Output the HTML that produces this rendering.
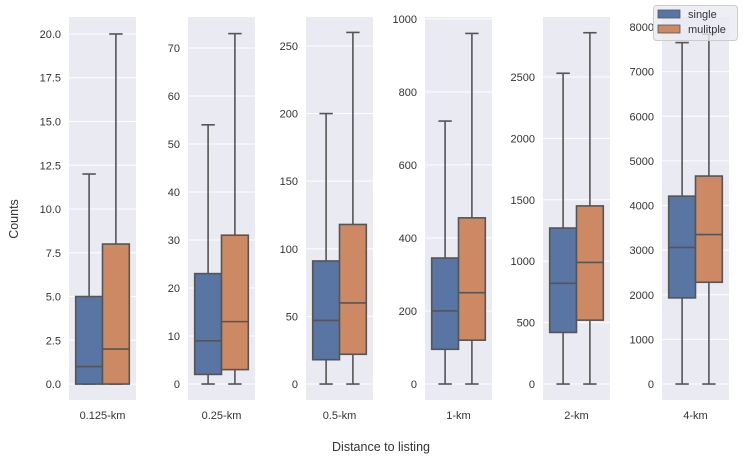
<!DOCTYPE html>
<html><head><meta charset="utf-8"><style>
body{margin:0;background:#fff;}
svg text{font-family:"Liberation Sans","DejaVu Sans",sans-serif;fill:#333;}
</style></head><body>
<svg id="chart" width="743" height="461" viewBox="0 0 743 461" xmlns="http://www.w3.org/2000/svg">
<text x="18" y="219" font-size="12.5" text-anchor="middle" transform="rotate(-90 18 219)">Counts</text>
<text x="381" y="451" font-size="12.5" text-anchor="middle">Distance to listing</text>
</svg>
<script>
const categories = ["0.125-km","0.25-km","0.5-km","1-km","2-km","4-km"];
const seriesNames = ["single","mulitple"];
// [whislo, q1, median, q3, whishi]
const singleStats = [[0,0,1,5,12],[0,2,9,23,54],[0,18,47,91,200],[0,95,200,345,720],[0,420,820,1270,2530],[0,1930,3060,4210,7650]];
const multipleStats = [[0,0,2,8,20],[0,3,13,31,73],[0,22,60,118,260],[0,120,250,455,960],[0,520,990,1450,2860],[0,2280,3350,4660,7840]];
const yMin = [-0.91,-3.33,-11.8,-43.8,-130,-358];
const yMax = [20.97,76.46,271.4,1005,2988,8224];
const tickValues = [[0,2.5,5,7.5,10,12.5,15,17.5,20],[0,10,20,30,40,50,60,70],[0,50,100,150,200,250],[0,200,400,600,800,1000],[0,500,1000,1500,2000,2500],[0,1000,2000,3000,4000,5000,6000,7000,8000]];
const tickLabels = [["0.0","2.5","5.0","7.5","10.0","12.5","15.0","17.5","20.0"],null,null,null,null,null];

const NS="http://www.w3.org/2000/svg";
const svg=document.getElementById('chart');
const panelLeft=[69,188,306,425,543,662], panelW=67, plotTop=17, plotBottom=400;
const colors=["#5875a4","#cc8963"];
function mk(tag,attrs,parent){const e=document.createElementNS(NS,tag);for(const k in attrs)e.setAttribute(k,attrs[k]);(parent||svg).appendChild(e);return e;}

categories.forEach((cat,i)=>{
  const g=mk('g',{});
  
  
  const y=v=>plotBottom-(v-yMin[i])/(yMax[i]-yMin[i])*(plotBottom-plotTop);
  const x0=panelLeft[i];
  const bg=mk('rect',{x:x0,y:plotTop,width:panelW,height:plotBottom-plotTop,fill:'#eaeaf2'},g);
  
  
  tickValues[i].forEach((t,j)=>{
    const yy=y(t);
    const gl=mk('line',{x1:x0,x2:x0+panelW,y1:yy,y2:yy,stroke:'#fff','stroke-width':1},g);
    
    
    const tl=mk('text',{x:x0-8,y:yy+4,'font-size':11,'text-anchor':'end'},g);
    
    
    tl.textContent=tickLabels[i]?tickLabels[i][j]:String(t);
  });
  const xl=mk('text',{x:x0+panelW/2,y:419,'font-size':11,'text-anchor':'middle'},g);
  
  
  xl.textContent=cat;
  [singleStats[i],multipleStats[i]].forEach((s,k)=>{
    const bw=panelW*0.4, bx=x0+panelW*0.1+k*bw, cx=bx+bw/2;
    const bg2=mk('g',{},g);
    
    
    const st={stroke:'#555','stroke-width':1.6};
    mk('line',Object.assign({x1:cx,x2:cx,y1:y(s[0]),y2:y(s[1])},st),bg2);
    mk('line',Object.assign({x1:cx,x2:cx,y1:y(s[3]),y2:y(s[4])},st),bg2);
    mk('line',Object.assign({x1:cx-bw/4,x2:cx+bw/4,y1:y(s[0]),y2:y(s[0])},st),bg2);
    mk('line',Object.assign({x1:cx-bw/4,x2:cx+bw/4,y1:y(s[4]),y2:y(s[4])},st),bg2);
    mk('rect',Object.assign({x:bx,y:y(s[3]),width:bw,height:Math.max(0,y(s[1])-y(s[3])),fill:colors[k]},st),bg2);
    mk('line',Object.assign({x1:bx,x2:bx+bw,y1:y(s[2]),y2:y(s[2])},st),bg2);
  });
});
const lg=mk('g',{});


mk('rect',{x:653.5,y:5.5,width:84,height:35,rx:3,fill:'#eaeaf2','fill-opacity':0.8,stroke:'#ccc'},lg);
seriesNames.forEach((n,k)=>{
  const e=mk('g',{},lg);
  
  
  mk('rect',{x:658,y:10+k*15,width:22,height:8,fill:colors[k],stroke:'#555','stroke-width':0.8},e);
  const t=mk('text',{x:688,y:18+k*15,'font-size':11},e);
  t.textContent=n;
});
</script>
</body></html>
